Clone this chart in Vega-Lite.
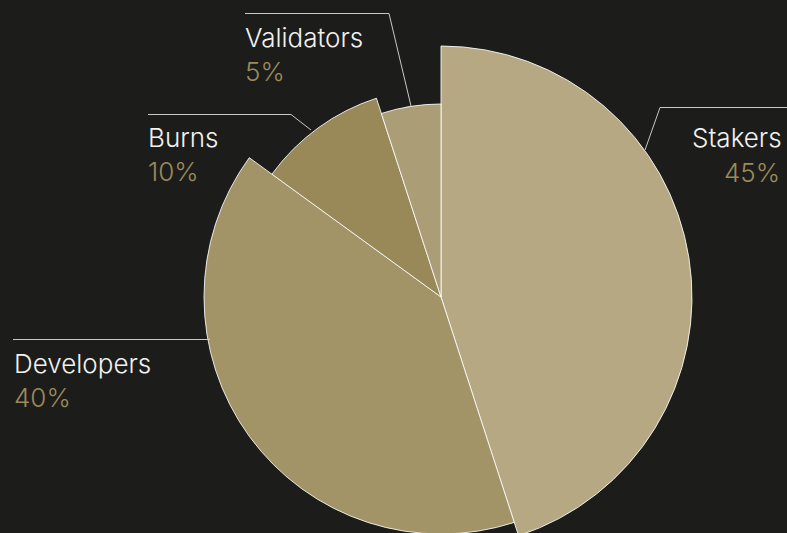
{
  "$schema": "https://vega.github.io/schema/vega-lite/v6.json",
  "width": 787,
  "height": 533,
  "autosize": {"type": "none"},
  "padding": 0,
  "background": "#1c1d1b",
  "view": {"stroke": null},
  "config": {"font": "Inter"},
  "datasets": {
    "slices": [
      {"category": "Stakers", "share": 45, "radius": 251, "ord": 1, "cx": 441, "cy": 297},
      {"category": "Developers", "share": 40, "radius": 237, "ord": 2, "cx": 441, "cy": 297},
      {"category": "Burns", "share": 10, "radius": 209, "ord": 3, "cx": 441, "cy": 297},
      {"category": "Validators", "share": 5, "radius": 193, "ord": 4, "cx": 441, "cy": 297}
    ],
    "leaders": [
      {"category": "Validators", "seq": 1, "px": 245, "py": 13.5},
      {"category": "Validators", "seq": 2, "px": 389, "py": 13.5},
      {"category": "Validators", "seq": 3, "px": 411, "py": 106},
      {"category": "Burns", "seq": 1, "px": 148, "py": 114.5},
      {"category": "Burns", "seq": 2, "px": 291, "py": 114.5},
      {"category": "Burns", "seq": 3, "px": 311, "py": 130},
      {"category": "Developers", "seq": 1, "px": 13, "py": 339.5},
      {"category": "Developers", "seq": 2, "px": 210, "py": 339.5},
      {"category": "Stakers", "seq": 1, "px": 787, "py": 107.5},
      {"category": "Stakers", "seq": 2, "px": 660, "py": 107.5},
      {"category": "Stakers", "seq": 3, "px": 645, "py": 150}
    ],
    "labels": [
      {"category": "Validators", "pct": "5%", "nx": 245, "ny": 47, "qx": 245, "qy": 81},
      {"category": "Burns", "pct": "10%", "nx": 148, "ny": 147, "qx": 148, "qy": 181},
      {"category": "Developers", "pct": "40%", "nx": 14, "ny": 373, "qx": 14, "qy": 407},
      {"category": "Stakers", "pct": "45%", "nx": 692, "ny": 147, "qx": 724, "qy": 182}
    ]
  },
  "layer": [
    {
      "data": {"name": "slices"},
      "transform": [
        {"stack": "share", "groupby": [], "sort": [{"field": "ord", "order": "ascending"}], "as": ["t0", "t1"]}
      ],
      "mark": {"type": "arc", "stroke": "#ffffff", "strokeWidth": 1, "strokeOpacity": 0.85},
      "encoding": {
        "x": {"field": "cx", "type": "quantitative", "scale": {"domain": [0, 787], "range": [0, 787]}, "axis": null},
        "y": {"field": "cy", "type": "quantitative", "scale": {"domain": [0, 533], "range": [0, 533]}, "axis": null},
        "theta": {"field": "t0", "type": "quantitative", "stack": null, "scale": {"domain": [0, 100], "range": [0, 6.283185307]}},
        "theta2": {"field": "t1"},
        "radius": {"field": "radius", "type": "quantitative", "scale": {"type": "linear", "domain": [0, 250], "range": [0, 250], "zero": true}},
        "color": {
          "field": "category",
          "type": "nominal",
          "scale": {"domain": ["Stakers", "Developers", "Burns", "Validators"], "range": ["#b6a882", "#a39468", "#9a8958", "#ab9d76"]},
          "legend": null
        }
      }
    },
    {
      "data": {"name": "leaders"},
      "mark": {"type": "line", "color": "#c8c8c4", "strokeWidth": 1, "interpolate": "linear"},
      "encoding": {
        "x": {"field": "px", "type": "quantitative", "scale": {"domain": [0, 787], "range": [0, 787]}, "axis": null},
        "y": {"field": "py", "type": "quantitative", "scale": {"domain": [0, 533], "range": [0, 533]}, "axis": null},
        "detail": {"field": "category", "type": "nominal"},
        "order": {"field": "seq", "type": "quantitative"}
      }
    },
    {
      "data": {"name": "labels"},
      "mark": {"type": "text", "align": "left", "baseline": "alphabetic", "fontSize": 26, "fontWeight": 300, "color": "#f2f2f0"},
      "encoding": {
        "x": {"field": "nx", "type": "quantitative", "scale": {"domain": [0, 787], "range": [0, 787]}, "axis": null},
        "y": {"field": "ny", "type": "quantitative", "scale": {"domain": [0, 533], "range": [0, 533]}, "axis": null},
        "text": {"field": "category", "type": "nominal"}
      }
    },
    {
      "data": {"name": "labels"},
      "mark": {"type": "text", "align": "left", "baseline": "alphabetic", "fontSize": 26, "fontWeight": 300, "color": "#9a8a5a"},
      "encoding": {
        "x": {"field": "qx", "type": "quantitative", "scale": {"domain": [0, 787], "range": [0, 787]}, "axis": null},
        "y": {"field": "qy", "type": "quantitative", "scale": {"domain": [0, 533], "range": [0, 533]}, "axis": null},
        "text": {"field": "pct", "type": "nominal"}
      }
    }
  ]
}
